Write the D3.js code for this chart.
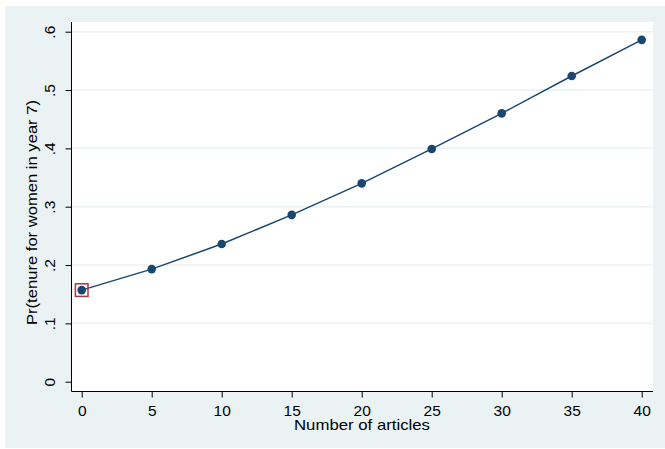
<!DOCTYPE html>
<html>
<head>
<meta charset="utf-8">
<script src="https://cdn.jsdelivr.net/npm/d3@7"></script>
<style>
  body { margin: 0; background: #fff; }
  svg text { font-family: "Liberation Sans", Arial, sans-serif; fill: #000; }
</style>
</head>
<body>
<svg id="chart" width="665" height="449"></svg>
<script>
// data
var articles = [0, 5, 10, 15, 20, 25, 30, 35, 40];
var prTenure = [0.157, 0.193, 0.236, 0.286, 0.340, 0.399, 0.460, 0.524, 0.586];
var xTicks = [0, 5, 10, 15, 20, 25, 30, 35, 40];
var yTicks = [0, 0.1, 0.2, 0.3, 0.4, 0.5, 0.6];
var yTickLabels = ["0", ".1", ".2", ".3", ".4", ".5", ".6"];

var svg = d3.select("#chart");
var plot = { left: 71.5, right: 653, top: 22, bottom: 391.5 };
var navy = "#1a476f";

// outer panel
svg.append("rect")
  .attr("x", 5).attr("y", 6).attr("width", 660).attr("height", 442)
  .attr("fill", "#eaf2f3");

svg.append("rect")
  .attr("x", plot.left).attr("y", plot.top)
  .attr("width", plot.right - plot.left).attr("height", plot.bottom - plot.top)
  .attr("fill", "#fff");

var x = d3.scaleLinear().domain([0, 40]).range([81.7, 641.7]);
var y = d3.scaleLinear().domain([0, 0.6]).range([381.7, 31.7]);

// grid lines
svg.append("g").selectAll("line")
  .data(yTicks.slice(1))
  .enter().append("line")
  .attr("x1", plot.left).attr("x2", plot.right)
  .attr("y1", function(d) { return y(d); })
  .attr("y2", function(d) { return y(d); })
  .attr("stroke", "#eaf2f3").attr("stroke-width", 1.5);

// axes
var xAxis = d3.axisBottom(x).tickValues(xTicks).tickSize(6).tickPadding(7).tickSizeOuter(0);
var gx = svg.append("g").attr("transform", "translate(0," + plot.bottom + ")").call(xAxis);
gx.select(".domain").attr("d", "M" + plot.left + ",0H" + plot.right).attr("stroke", "#000");
gx.selectAll(".tick line").attr("stroke", "#000");
gx.selectAll("text").style("font-size", "15.5px").attr("fill", "#000");

var yAxis = d3.axisLeft(y).tickValues(yTicks).tickSize(6).tickSizeOuter(0)
  .tickFormat(function(d, i) { return yTickLabels[i]; });
var gy = svg.append("g").attr("transform", "translate(" + plot.left + ",0)").call(yAxis);
gy.select(".domain").attr("d", "M0," + plot.top + "V" + plot.bottom).attr("stroke", "#000");
gy.selectAll(".tick line").attr("stroke", "#000");
gy.selectAll("text")
  .style("font-size", "15.5px").attr("fill", "#000")
  .attr("x", 0).attr("dy", 0)
  .attr("text-anchor", "middle")
  .attr("transform", "translate(-17,0) rotate(-90)");

// axis titles
svg.append("text")
  .attr("x", 362).attr("y", 430)
  .attr("text-anchor", "middle")
  .attr("textLength", 136).attr("lengthAdjust", "spacingAndGlyphs")
  .style("font-size", "15px")
  .text("Number of articles");

svg.append("text")
  .attr("transform", "translate(37,212.5) rotate(-90)")
  .attr("text-anchor", "middle")
  .attr("textLength", 225).attr("lengthAdjust", "spacingAndGlyphs")
  .style("font-size", "15px")
  .text("Pr(tenure for women in year 7)");

// connected line
var line = d3.line()
  .x(function(d, i) { return x(articles[i]); })
  .y(function(d) { return y(d); });

svg.append("path")
  .datum(prTenure)
  .attr("d", line)
  .attr("fill", "none")
  .attr("stroke", navy)
  .attr("stroke-width", 1.5);

svg.append("g").selectAll("circle")
  .data(prTenure)
  .enter().append("circle")
  .attr("cx", function(d, i) { return x(articles[i]); })
  .attr("cy", function(d) { return y(d); })
  .attr("r", 4.3)
  .attr("fill", navy);

// highlight box on first point
svg.append("rect")
  .attr("x", x(articles[0]) - 6.3).attr("y", y(prTenure[0]) - 6.3)
  .attr("width", 12.6).attr("height", 12.6)
  .attr("fill", "none")
  .attr("stroke", "#a83b3b")
  .attr("stroke-width", 1.5);
</script>
</body>
</html>
